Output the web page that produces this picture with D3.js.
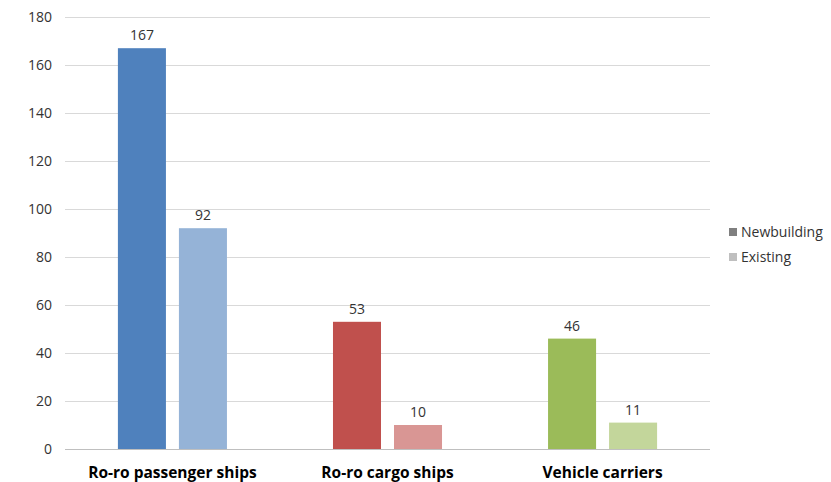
<!DOCTYPE html>
<html>
<head>
  <meta charset="utf-8">
  <title>Ro-ro ships</title>
  <script src="https://d3js.org/d3.v7.min.js"></script>
  <style>
    body { margin: 0; background: #fff; }
    text { font-family: "Open Sans", "Liberation Sans", sans-serif; }
  </style>
</head>
<body>
<div id="chart"></div>
<script>
var categories = ["Ro-ro passenger ships", "Ro-ro cargo ships", "Vehicle carriers"];
var seriesNames = ["Newbuilding", "Existing"];
var newbuilding = [167, 53, 46];
var existing = [92, 10, 11];
var yTicks = [0, 20, 40, 60, 80, 100, 120, 140, 160, 180];

// colours per category: dark for newbuilding, light for existing
var darkColors = ["#4F81BD", "#C0504D", "#9BBB59"];
var lightColors = ["#95B3D7", "#D99694", "#C3D69B"];
var legendColors = ["#7F7F7F", "#BFBFBF"];

var margin = {top: 17, right: 121, bottom: 33, left: 65},
    width = 831 - margin.left - margin.right,
    height = 482 - margin.top - margin.bottom;

var svg = d3.select("#chart").append("svg")
    .attr("width", 831)
    .attr("height", 482);

var g = svg.append("g")
    .attr("transform", "translate(" + margin.left + "," + margin.top + ")");

var yScale = d3.scaleLinear().domain([0, 180]).range([height, 0]);

var xScale = d3.scaleBand()
    .domain(categories)
    .range([0, width])
    .paddingInner(0.493)
    .paddingOuter(0.246);

var xInner = d3.scaleBand()
    .domain(seriesNames)
    .range([0, xScale.bandwidth()])
    .paddingInner(0.213);

// gridlines
g.selectAll(".grid")
  .data(yTicks)
  .enter().append("line")
    .attr("x1", 0)
    .attr("x2", width)
    .attr("y1", function(d){ return Math.round(yScale(d)) + 0.5; })
    .attr("y2", function(d){ return Math.round(yScale(d)) + 0.5; })
    .attr("stroke", function(d){ return d === 0 ? "#BFBFBF" : "#D9D9D9"; })
    .attr("stroke-width", 1);

// tick labels
g.selectAll(".ytick")
  .data(yTicks)
  .enter().append("text")
    .attr("x", -13)
    .attr("y", function(d){ return yScale(d); })
    .attr("dy", "0.35em")
    .attr("text-anchor", "end")
    .attr("font-size", 14)
    .attr("fill", "#333")
    .text(function(d){ return d; });

var rows = categories.map(function(c, i){
  return {cat: c, i: i, vals: [newbuilding[i], existing[i]]};
});

var groups = g.selectAll(".group")
  .data(rows)
  .enter().append("g")
    .attr("transform", function(d){ return "translate(" + xScale(d.cat) + ",0)"; });

groups.selectAll("rect")
  .data(function(d){ return d.vals.map(function(v, j){ return {v: v, j: j, i: d.i}; }); })
  .enter().append("rect")
    .attr("x", function(d){ return xInner(seriesNames[d.j]); })
    .attr("y", function(d){ return yScale(d.v); })
    .attr("width", xInner.bandwidth())
    .attr("height", function(d){ return height - yScale(d.v); })
    .attr("fill", function(d){ return d.j === 0 ? darkColors[d.i] : lightColors[d.i]; });

groups.selectAll(".val")
  .data(function(d){ return d.vals.map(function(v, j){ return {v: v, j: j}; }); })
  .enter().append("text")
    .attr("x", function(d){ return xInner(seriesNames[d.j]) + xInner.bandwidth() / 2; })
    .attr("y", function(d){ return yScale(d.v) - 8; })
    .attr("text-anchor", "middle")
    .attr("font-size", 14)
    .attr("fill", "#333")
    .text(function(d){ return d.v; });

// category labels
g.selectAll(".cat")
  .data(categories)
  .enter().append("text")
    .attr("x", function(d){ return xScale(d) + xScale.bandwidth() / 2; })
    .attr("y", height + 29)
    .attr("text-anchor", "middle")
    .attr("font-size", 15.5)
    .attr("font-weight", "bold")
    .attr("fill", "#000")
    .text(function(d){ return d; });

// legend
var legend = svg.append("g").attr("transform", "translate(729,228)");
legend.selectAll("rect")
  .data(seriesNames)
  .enter().append("rect")
    .attr("x", 0)
    .attr("y", function(d, i){ return i * 25; })
    .attr("width", 8)
    .attr("height", 8)
    .attr("fill", function(d, i){ return legendColors[i]; });
legend.selectAll("text")
  .data(seriesNames)
  .enter().append("text")
    .attr("x", 12)
    .attr("y", function(d, i){ return i * 25 + 4; })
    .attr("dy", "0.35em")
    .attr("font-size", 14)
    .attr("fill", "#333")
    .text(function(d){ return d; });
</script>
</body>
</html>
